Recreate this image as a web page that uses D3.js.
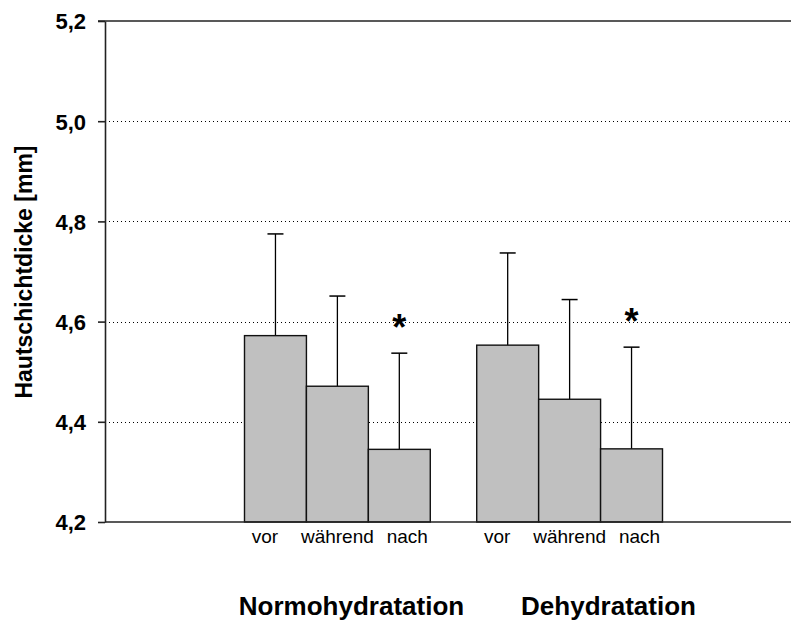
<!DOCTYPE html>
<html>
<head>
<meta charset="utf-8">
<script src="https://cdn.jsdelivr.net/npm/d3@7"></script>
<style>
  body { margin: 0; background: #fff; }
  svg { display: block; font-family: Arial, "Liberation Sans", sans-serif; }
</style>
</head>
<body>
<svg id="chart" width="791" height="622"></svg>
<script>
// Skin layer thickness before / during / after exercise, two hydration conditions
const groups = ["Normohydratation", "Dehydratation"];
const phases = ["vor", "während", "nach"];
const meanNormo = [4.572, 4.471, 4.345];
const meanDehyd = [4.553, 4.445, 4.346];
const sdNormo = [0.203, 0.180, 0.192];
const sdDehyd = [0.184, 0.199, 0.203];
const significant = [false, false, true];
const yTicks = [4.2, 4.4, 4.6, 4.8, 5.0, 5.2];

const data = groups.map((g, gi) => ({
  group: g,
  values: phases.map((p, pi) => ({
    phase: p,
    mean: gi === 0 ? meanNormo[pi] : meanDehyd[pi],
    sd: gi === 0 ? sdNormo[pi] : sdDehyd[pi],
    sig: significant[pi]
  }))
}));

const svg = d3.select("#chart");
const plotLeft = 105, plotRight = 791, plotTop = 21, plotBottom = 522;

const y = d3.scaleLinear().domain([4.2, 5.2]).range([plotBottom, plotTop]);
const x0 = d3.scaleBand().domain(groups).range([244.5, 662.5]).paddingInner(0.2);
const x1 = d3.scaleBand().domain(phases).range([0, x0.bandwidth()]);
const fmt = v => d3.format(".1f")(v).replace(".", ",");
const labelShift = { "vor": -10.5, "während": 0, "nach": 8 };

// dotted grid lines
svg.append("g")
  .selectAll("line")
  .data(yTicks.filter(t => t > 4.2 && t < 5.2))
  .join("line")
  .attr("x1", plotLeft).attr("x2", plotRight)
  .attr("y1", d => Math.round(y(d)) + 0.5).attr("y2", d => Math.round(y(d)) + 0.5)
  .attr("stroke", "#000").attr("stroke-width", 1)
  .attr("stroke-dasharray", "1,3");

// y axis
const yAxis = svg.append("g")
  .attr("transform", `translate(${plotLeft},0)`)
  .call(d3.axisLeft(y).tickValues(yTicks).tickFormat(fmt).tickSize(7).tickSizeOuter(0));
yAxis.select(".domain").attr("stroke", "#222").attr("stroke-width", 1.6);
yAxis.selectAll(".tick line").attr("stroke", "#222").attr("stroke-width", 1.6);
yAxis.selectAll(".tick text")
  .attr("x", -19)
  .attr("dy", "0.36em")
  .attr("font-size", 22).attr("font-weight", "bold")
  .attr("font-family", "Arial, 'Liberation Sans', sans-serif")
  .attr("fill", "#000");

// top frame line
svg.append("line")
  .attr("x1", plotLeft - 7).attr("x2", plotRight)
  .attr("y1", y(5.2)).attr("y2", y(5.2))
  .attr("stroke", "#222").attr("stroke-width", 1.6);

// bars and error bars
const gGroups = svg.append("g").selectAll("g")
  .data(data).join("g")
  .attr("transform", d => `translate(${x0(d.group)},0)`);

const cap = 8;
gGroups.each(function(d) {
  const g = d3.select(this);
  // error bars (upper half only) drawn behind the bars
  g.selectAll("line.err").data(d.values).join("line")
    .attr("class", "err")
    .attr("x1", v => x1(v.phase) + x1.bandwidth() / 2)
    .attr("x2", v => x1(v.phase) + x1.bandwidth() / 2)
    .attr("y1", v => y(v.mean)).attr("y2", v => y(v.mean + v.sd))
    .attr("stroke", "#000").attr("stroke-width", 1.3);
  g.selectAll("line.cap").data(d.values).join("line")
    .attr("class", "cap")
    .attr("x1", v => x1(v.phase) + x1.bandwidth() / 2 - cap)
    .attr("x2", v => x1(v.phase) + x1.bandwidth() / 2 + cap)
    .attr("y1", v => y(v.mean + v.sd)).attr("y2", v => y(v.mean + v.sd))
    .attr("stroke", "#000").attr("stroke-width", 1.5);
  g.selectAll("rect").data(d.values).join("rect")
    .attr("x", v => x1(v.phase))
    .attr("width", x1.bandwidth())
    .attr("y", v => y(v.mean))
    .attr("height", v => y(4.2) - y(v.mean))
    .attr("fill", "#c0c0c0")
    .attr("stroke", "#111").attr("stroke-width", 1.4);
  // significance markers
  g.selectAll("text.sig").data(d.values.filter(v => v.sig)).join("text")
    .attr("class", "sig")
    .attr("x", v => x1(v.phase) + x1.bandwidth() / 2)
    .attr("y", v => y(v.mean + v.sd) - 13)
    .attr("text-anchor", "middle")
    .attr("font-size", 36).attr("font-weight", "bold")
    .text("*");
  // phase labels
  g.selectAll("text.phase").data(d.values).join("text")
    .attr("class", "phase")
    .attr("x", v => x1(v.phase) + x1.bandwidth() / 2 + labelShift[v.phase])
    .attr("y", plotBottom + 21)
    .attr("text-anchor", "middle")
    .attr("font-size", 19)
    .text(v => v.phase);
});

// x baseline
svg.append("line")
  .attr("x1", plotLeft).attr("x2", plotRight)
  .attr("y1", plotBottom).attr("y2", plotBottom)
  .attr("stroke", "#222").attr("stroke-width", 1.6);

// group labels
svg.append("g").selectAll("text")
  .data(groups).join("text")
  .attr("x", (g, i) => i === 0 ? 351.5 : 608.5)
  .attr("y", 615)
  .attr("text-anchor", "middle")
  .attr("font-size", 26).attr("font-weight", "bold")
  .text(g => g);

// y axis title
svg.append("text")
  .attr("transform", "translate(32,272) rotate(-90)")
  .attr("text-anchor", "middle")
  .attr("font-size", 23).attr("font-weight", "bold")
  .text("Hautschichtdicke [mm]");
</script>
</body>
</html>
